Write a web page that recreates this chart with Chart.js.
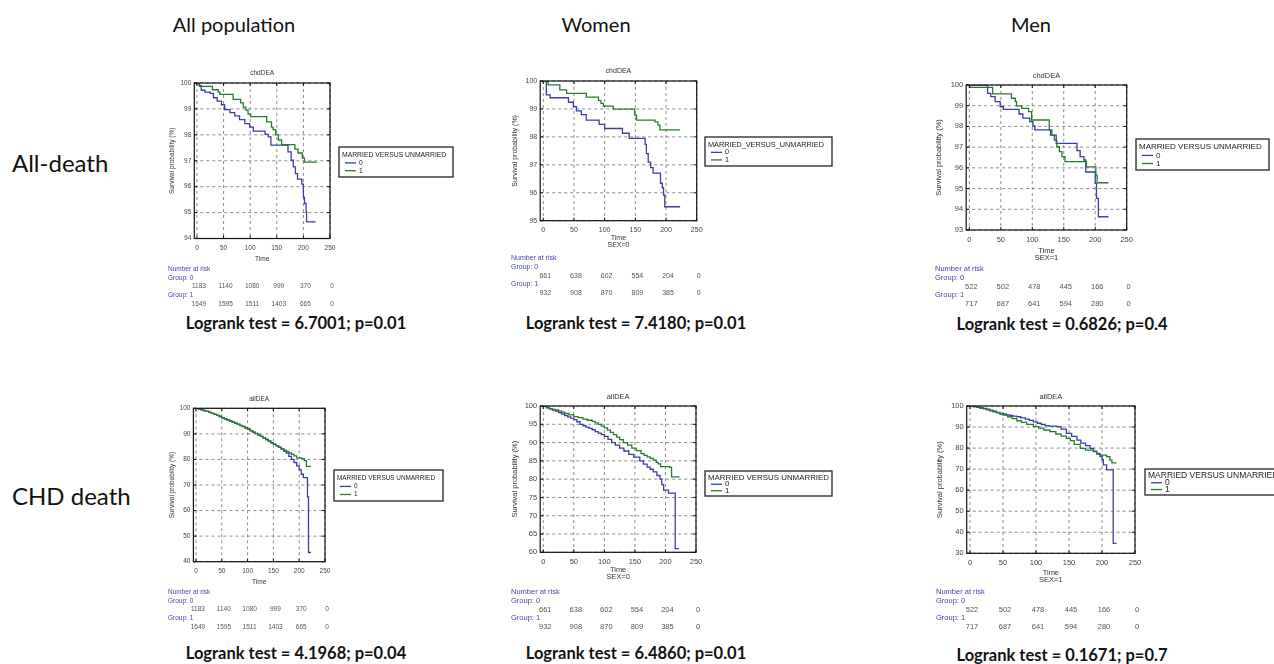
<!DOCTYPE html>
<html>
<head>
<meta charset="utf-8">
<script src="https://cdn.jsdelivr.net/npm/chart.js@4.4.1/dist/chart.umd.min.js"></script>
<style>
  body { margin: 0; background: #fff; width: 1274px; height: 664px; position: relative; overflow: hidden; font-family: Lato, "Open Sans", sans-serif; color: #111; }
  .hdr { position: absolute; font-size: 20px; transform: translate(-50%, -50%); white-space: nowrap; }
  .rowlab { position: absolute; font-size: 24px; transform: translateY(-50%); white-space: nowrap; }
  .logrank { position: absolute; font-size: 16.5px; font-weight: bold; transform: translate(-50%, -50%); white-space: nowrap; }
  canvas { position: absolute; }
</style>
</head>
<body>
<div class="hdr" style="left:234px;top:24px">All population</div>
<div class="hdr" style="left:596px;top:24px">Women</div>
<div class="hdr" style="left:1031px;top:24px">Men</div>
<div class="rowlab" style="left:12px;top:162px">All-death</div>
<div class="rowlab" style="left:12px;top:495px">CHD death</div>
<div class="logrank" style="left:296px;top:323px">Logrank test = 6.7001; p=0.01</div>
<div class="logrank" style="left:636px;top:323px">Logrank test = 7.4180; p=0.01</div>
<div class="logrank" style="left:1062px;top:324px">Logrank test = 0.6826; p=0.4</div>
<div class="logrank" style="left:296px;top:653px">Logrank test = 4.1968; p=0.04</div>
<div class="logrank" style="left:636px;top:653px">Logrank test = 6.4860; p=0.01</div>
<div class="logrank" style="left:1062px;top:655px">Logrank test = 0.1671; p=0.7</div>

<script>
// ---- data: [time, survival %] at each step ----
const timeTicks = [0, 50, 100, 150, 200, 250];
const groupLabels = ['0', '1'];

// chdDEA, all population
const chdAll0 = [[0,100],[4,99.9],[8,99.72],[15,99.65],[25,99.6],[31,99.43],[38,99.3],[46,99.16],[52,98.97],[62,98.86],[71,98.73],[80,98.59],[90,98.43],[99,98.3],[106,98.14],[128,98.02],[134,97.92],[139,97.6],[171,97.34],[177,97.02],[181,96.76],[185,96.5],[189,96.29],[197,96.1],[200,95.6],[202,95.35],[205,95.03],[206,94.64],[223,94.64]];
const chdAll1 = [[0,100],[5,99.87],[29,99.74],[40,99.65],[43,99.56],[68,99.37],[82,99.23],[87,99.07],[92,98.95],[96,98.8],[101,98.7],[131,98.5],[140,98.3],[143,98.2],[148,98.0],[153,97.8],[159,97.62],[184,97.45],[190,97.3],[198,97.1],[202,96.95],[225,96.95]];

// chdDEA, women
const chdWomen0 = [[0,100],[5,99.5],[11,99.4],[41,99.24],[49,99.08],[54,98.93],[62,98.8],[70,98.6],[91,98.45],[100,98.3],[129,98.13],[140,97.95],[166,97.73],[168,97.4],[171,97.1],[175,96.9],[179,96.7],[191,96.34],[194,96.18],[196,95.92],[198,95.5],[223,95.5]];
const chdWomen1 = [[0,100],[8,99.86],[27,99.68],[38,99.56],[70,99.42],[90,99.3],[94,99.2],[98,99.1],[114,98.99],[149,98.78],[152,98.6],[182,98.54],[187,98.42],[190,98.25],[223,98.25]];

// chdDEA, men
const chdMen0 = [[0,100],[29,99.6],[34,99.44],[41,99.2],[49,98.95],[54,98.82],[79,98.6],[85,98.4],[96,98.23],[101,98.02],[104,97.83],[129,97.58],[138,97.18],[171,96.83],[176,96.54],[182,96.38],[185,95.8],[200,95.25],[202,94.53],[205,93.64],[221,93.64]];
const chdMen1 = [[0,100],[1,99.89],[37,99.57],[67,99.36],[73,99.2],[75,98.99],[83,98.87],[94,98.71],[99,98.31],[127,97.83],[131,97.58],[135,97.34],[139,97.02],[143,96.78],[147,96.54],[152,96.3],[186,96.05],[201,95.65],[203,95.28],[221,95.28]];

// allDEA, all population
const allAll0 = [[0,100],[5,99.7],[10,99.4],[15,99.1],[20,98.8],[25,98.4],[30,98.0],[35,97.6],[40,97.2],[45,96.8],[50,96.3],[55,95.9],[60,95.5],[65,95.1],[70,94.6],[75,94.2],[80,93.8],[85,93.3],[90,92.9],[95,92.4],[100,91.9],[105,91.3],[110,90.7],[115,90.2],[120,89.6],[125,89.0],[130,88.4],[135,87.8],[140,87.2],[145,86.5],[150,85.9],[155,85.3],[160,84.7],[165,84.0],[170,83.3],[175,82.5],[180,81.2],[185,80.0],[190,78.8],[195,77.5],[200,76.0],[204,74.2],[208,72.9],[216,65.4],[218,43.6],[223,43.6]];
const allAll1 = [[0,100],[5,99.7],[10,99.4],[15,99.1],[20,98.8],[25,98.4],[30,98.0],[35,97.6],[40,97.2],[45,96.8],[50,96.3],[55,95.9],[60,95.5],[65,95.0],[70,94.6],[75,94.1],[80,93.7],[85,93.2],[90,92.8],[95,92.3],[100,91.8],[105,91.2],[110,90.6],[115,90.1],[120,89.5],[125,89.0],[130,88.4],[135,87.8],[140,87.2],[145,86.6],[150,86.0],[155,85.4],[160,84.8],[165,84.2],[170,83.6],[175,83.1],[180,82.6],[185,82.0],[190,81.4],[195,80.6],[205,80.3],[210,79.5],[214,77.3],[223,77.3]];

// allDEA, women
const allWomen0 = [[0,100],[5,99.5],[10,99.2],[15,98.9],[20,98.6],[25,98.2],[30,97.8],[35,97.4],[40,97.0],[45,96.7],[50,96.3],[55,95.7],[60,95.0],[65,94.6],[70,94.2],[75,93.9],[80,93.5],[85,93.0],[90,92.6],[95,92.2],[100,91.7],[106,90.9],[112,90.0],[118,89.3],[125,88.5],[132,87.7],[140,86.8],[148,86.0],[158,85.0],[164,84.1],[170,83.3],[175,82.7],[180,82.0],[186,81.0],[191,80.0],[194,78.5],[197,77.0],[205,76.2],[216,61.0],[222,61.0]];
const allWomen1 = [[0,100],[5,99.6],[10,99.3],[15,99.1],[20,98.9],[25,98.6],[30,98.3],[35,98.0],[42,97.6],[50,97.1],[57,96.8],[65,96.4],[72,96.1],[80,95.8],[85,95.4],[90,95.0],[95,94.5],[100,94.0],[105,93.4],[110,92.8],[115,92.2],[120,91.5],[125,90.8],[131,90.0],[138,89.3],[145,88.5],[152,87.8],[160,87.0],[165,86.5],[170,86.1],[175,85.7],[180,85.2],[185,84.6],[188,84.2],[192,83.4],[207,83.2],[210,80.6],[223,80.6]];

// allDEA, men
const allMen0 = [[0,100],[5,99.8],[10,99.5],[15,99.2],[20,98.9],[25,98.5],[30,98.0],[35,97.5],[40,97.0],[45,96.5],[50,96.2],[55,95.8],[60,95.5],[65,95.2],[71,94.9],[77,94.4],[84,93.8],[90,93.2],[96,92.5],[102,91.8],[108,91.2],[114,90.7],[120,90.4],[131,90.2],[138,89.0],[146,87.0],[154,85.6],[162,83.8],[168,82.4],[175,81.2],[182,79.9],[187,78.5],[192,77.2],[197,76.0],[200,74.5],[202,72.0],[207,69.6],[217,34.7],[222,34.7]];
const allMen1 = [[0,100],[5,99.6],[10,99.3],[15,98.9],[20,98.6],[25,98.2],[30,97.7],[35,97.2],[40,96.8],[45,96.2],[50,95.7],[57,94.9],[64,94.0],[71,93.0],[78,92.2],[86,91.3],[96,90.2],[104,89.5],[112,88.6],[121,87.8],[130,86.7],[138,85.7],[146,84.6],[152,83.5],[158,81.8],[167,79.9],[175,79.0],[187,78.3],[192,77.5],[197,76.7],[207,75.9],[212,74.3],[215,73.0],[222,73.0]];

// number at risk at each time tick
const riskAll0 = [1183, 1140, 1080, 999, 370, 0];
const riskAll1 = [1649, 1595, 1511, 1403, 665, 0];
const riskWomen0 = [661, 638, 602, 554, 204, 0];
const riskWomen1 = [932, 908, 870, 809, 385, 0];
const riskMen0 = [522, 502, 478, 445, 166, 0];
const riskMen1 = [717, 687, 641, 594, 280, 0];

// ---- layout ----
const BLUE = '#3d3d9e';
const GREEN = '#2b7a2b';
Chart.defaults.font.family = '"Liberation Sans", Arial, sans-serif';

const panels = [
  { title: 'chdDEA', xTitle: ['Time'], legendTitle: 'MARRIED VERSUS UNMARRIED',
    g0: chdAll0, g1: chdAll1, r0: riskAll0, r1: riskAll1, yMin: 94, yMax: 100, yStep: 1,
    box: { L: 194.3, R: 330, T: 83, B: 238.5 }, yTitleX: 172, timeY: 259, riskY: 269,
    legend: { x: 339, y: 147, w: 114, h: 30 }, fs: 6.5, lfs: 6.8 },
  { title: 'chdDEA', xTitle: ['Time', 'SEX=0'], legendTitle: 'MARRIED_VERSUS_UNMARRIED',
    g0: chdWomen0, g1: chdWomen1, r0: riskWomen0, r1: riskWomen1, yMin: 95, yMax: 100, yStep: 1,
    box: { L: 540.2, R: 696.7, T: 81, B: 220.7 }, yTitleX: 515, timeY: 238, riskY: 258,
    legend: { x: 705, y: 137, w: 127, h: 29 }, fs: 7, lfs: 7.3 },
  { title: 'chdDEA', xTitle: ['Time', 'SEX=1'], legendTitle: 'MARRIED VERSUS UNMARRIED',
    g0: chdMen0, g1: chdMen1, r0: riskMen0, r1: riskMen1, yMin: 93, yMax: 100, yStep: 1,
    box: { L: 966.2, R: 1126.7, T: 85, B: 230 }, yTitleX: 939, timeY: 251, riskY: 269,
    legend: { x: 1136, y: 139, w: 133, h: 31 }, fs: 7.5, lfs: 8 },
  { title: 'allDEA', xTitle: ['Time'], legendTitle: 'MARRIED VERSUS UNMARRIED',
    g0: allAll0, g1: allAll1, r0: riskAll0, r1: riskAll1, yMin: 40, yMax: 100, yStep: 10,
    box: { L: 193.4, R: 325, T: 408.3, B: 561.7 }, yTitleX: 172, timeY: 582, riskY: 592,
    legend: { x: 334, y: 470, w: 109, h: 31 }, fs: 6.5, lfs: 6.4 },
  { title: 'allDEA', xTitle: ['Time', 'SEX=0'], legendTitle: 'MARRIED VERSUS UNMARRIED',
    g0: allWomen0, g1: allWomen1, r0: riskWomen0, r1: riskWomen1, yMin: 60, yMax: 100, yStep: 5,
    box: { L: 540.2, R: 696, T: 406, B: 552.3 }, yTitleX: 515, timeY: 570, riskY: 592,
    legend: { x: 705, y: 471, w: 127, h: 25 }, fs: 7.5, lfs: 7.9 },
  { title: 'allDEA', xTitle: ['Time', 'SEX=1'], legendTitle: 'MARRIED VERSUS UNMARRIED',
    g0: allMen0, g1: allMen1, r0: riskMen0, r1: riskMen1, yMin: 30, yMax: 100, yStep: 10,
    box: { L: 966.7, R: 1135, T: 406, B: 553.3 }, yTitleX: 940, timeY: 573, riskY: 592,
    legend: { x: 1145, y: 469, w: 135, h: 26 }, fs: 7.5, lfs: 8.5 }
];

const ROW = 8.8;   // line step in the number-at-risk table

function makePanel(p) {
  const cL = Math.round(p.yTitleX - 7);
  const cT = Math.round(p.box.T - 18);
  const cR = Math.min(1274, p.legend.x + p.legend.w + 3);
  const cB = Math.round(p.riskY + 4 * ROW + 6);
  const W = cR - cL, H = cB - cT;

  const canvas = document.createElement('canvas');
  canvas.width = W; canvas.height = H;
  canvas.style.left = cL + 'px'; canvas.style.top = cT + 'px';
  canvas.style.width = W + 'px'; canvas.style.height = H + 'px';
  document.body.appendChild(canvas);

  const xLine = 7;
  const xH = p.timeY + xLine / 2 + xLine * (p.xTitle.length - 1) - p.box.B;
  const yW = p.box.L - cL;
  const fs = p.fs;
  const font = s => s + 'px "Liberation Sans", Arial, sans-serif';

  const decor = {
    id: 'kmDecor',
    // dashed grid at the scale ticks
    beforeDatasetsDraw(chart) {
      const { ctx, chartArea: a, scales: { x, y } } = chart;
      ctx.save();
      ctx.strokeStyle = '#6e6e6e';
      ctx.lineWidth = 0.8;
      ctx.setLineDash([3, 3]);
      ctx.beginPath();
      x.ticks.forEach(t => {
        const px = x.getPixelForValue(t.value);
        ctx.moveTo(px, a.top); ctx.lineTo(px, a.bottom);
      });
      y.ticks.forEach(t => {
        const py = y.getPixelForValue(t.value);
        ctx.moveTo(a.left, py); ctx.lineTo(a.right, py);
      });
      ctx.stroke();
      ctx.restore();
    },
    afterDraw(chart) {
      const { ctx, chartArea: a, scales: { x, y } } = chart;
      ctx.save();
      // frame round the plot
      ctx.setLineDash([]);
      ctx.strokeStyle = '#111';
      ctx.lineWidth = 1.2;
      ctx.strokeRect(a.left, a.top, a.right - a.left, a.bottom - a.top);
      // small inner tick marks
      ctx.lineWidth = 1;
      ctx.beginPath();
      x.ticks.forEach(t => {
        const px = x.getPixelForValue(t.value);
        ctx.moveTo(px, a.bottom); ctx.lineTo(px, a.bottom - 3);
        ctx.moveTo(px, a.top); ctx.lineTo(px, a.top + 3);
      });
      y.ticks.forEach(t => {
        const py = y.getPixelForValue(t.value);
        ctx.moveTo(a.left, py); ctx.lineTo(a.left + 3, py);
        ctx.moveTo(a.right, py); ctx.lineTo(a.right - 3, py);
      });
      ctx.stroke();

      // panel title
      ctx.font = font(fs);
      ctx.fillStyle = '#333';
      ctx.textAlign = 'center';
      ctx.textBaseline = 'middle';
      ctx.fillText(p.title, (a.left + a.right) / 2, a.top - 9.5);

      // legend box
      const lx = p.legend.x - cL, ly = p.legend.y - cT, lw = p.legend.w, lh = p.legend.h;
      ctx.strokeStyle = '#333';
      ctx.lineWidth = 1.4;
      ctx.strokeRect(lx, ly, lw, lh);
      ctx.font = font(p.lfs);
      ctx.textAlign = 'left';
      ctx.fillStyle = '#222';
      ctx.fillText(p.legendTitle, lx + 3, ly + lh * 0.26);
      [BLUE, GREEN].forEach((c, i) => {
        const yy = ly + lh * (0.53 + i * 0.26);
        ctx.strokeStyle = c;
        ctx.lineWidth = 1.3;
        ctx.beginPath();
        ctx.moveTo(lx + 6, yy); ctx.lineTo(lx + 17, yy);
        ctx.stroke();
        ctx.fillText(groupLabels[i], lx + 20, yy);
      });

      // number at risk table
      ctx.font = font(fs);
      const ry = p.riskY - cT;
      ctx.fillStyle = '#4646a6';
      ctx.fillText('Number at risk', 3, ry);
      ctx.fillText('Group: 0', 3, ry + ROW);
      ctx.fillText('Group: 1', 3, ry + 3 * ROW);
      ctx.fillStyle = '#555';
      ctx.textAlign = 'center';
      timeTicks.forEach((t, i) => {
        const px = x.getPixelForValue(t) + 2;
        ctx.fillText(String(p.r0[i]), px, ry + 2 * ROW);
        ctx.fillText(String(p.r1[i]), px, ry + 4 * ROW);
      });
      ctx.restore();
    }
  };

  new Chart(canvas, {
    type: 'line',
    data: {
      datasets: [
        { label: groupLabels[0], data: p.g0.map(([t, s]) => ({ x: t, y: s })),
          borderColor: BLUE, borderWidth: 1.3, stepped: true, pointRadius: 0, fill: false, order: 1 },
        { label: groupLabels[1], data: p.g1.map(([t, s]) => ({ x: t, y: s })),
          borderColor: GREEN, borderWidth: 1.3, stepped: true, pointRadius: 0, fill: false, order: 0 }
      ]
    },
    options: {
      responsive: false,
      animation: false,
      devicePixelRatio: 1,
      layout: { padding: { left: 0, top: p.box.T - cT, right: cR - p.box.R, bottom: cB - (p.box.B + xH) } },
      plugins: { legend: { display: false }, tooltip: { enabled: false }, title: { display: false } },
      scales: {
        x: {
          type: 'linear', min: -5, max: 250,
          afterBuildTicks: s => { s.ticks = timeTicks.map(v => ({ value: v })); },
          afterFit: s => { s.height = xH; s.paddingLeft = 0; s.paddingRight = 0; },
          grid: { display: false, drawTicks: false },
          border: { display: false },
          ticks: { padding: 6, color: '#444', font: { size: fs, lineHeight: '7px' }, maxRotation: 0, autoSkip: false },
          title: { display: true, text: p.xTitle, color: '#333', padding: 0, font: { size: fs, lineHeight: xLine + 'px' } }
        },
        y: {
          min: p.yMin, max: p.yMax,
          afterFit: s => { s.width = yW; s.paddingTop = 0; s.paddingBottom = 0; },
          grid: { display: false, drawTicks: false },
          border: { display: false },
          ticks: { stepSize: p.yStep, padding: 3, color: '#444', font: { size: fs } },
          title: { display: true, text: 'Survival probability (%)', color: '#333',
                   padding: { top: 3, bottom: 0 }, font: { size: fs, lineHeight: '8px' } }
        }
      }
    },
    plugins: [decor]
  });
}

panels.forEach(makePanel);
</script>
</body>
</html>
